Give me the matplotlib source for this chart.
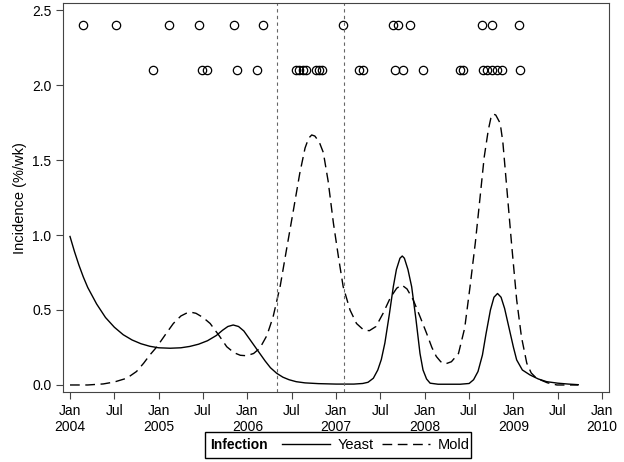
import matplotlib
matplotlib.use('Agg')
import matplotlib.pyplot as plt
from matplotlib.lines import Line2D
from matplotlib.patches import Rectangle

plt.rcParams['font.family'] = ['Liberation Sans', 'DejaVu Sans']

# time in decimal years
yeast_t = [2004.0, 2004.05, 2004.1, 2004.15, 2004.2, 2004.3, 2004.4, 2004.5, 2004.6,
           2004.7, 2004.8, 2004.9, 2005.0, 2005.13, 2005.25, 2005.35, 2005.45, 2005.55,
           2005.65, 2005.72, 2005.78, 2005.84, 2005.9, 2005.96, 2006.02, 2006.08,
           2006.14, 2006.2, 2006.26, 2006.33, 2006.4, 2006.47, 2006.55, 2006.65, 2006.8,
           2007.0, 2007.2, 2007.3, 2007.36, 2007.42, 2007.47, 2007.51, 2007.55, 2007.6,
           2007.645, 2007.68, 2007.72, 2007.746, 2007.77, 2007.81, 2007.852, 2007.9,
           2007.946, 2007.98, 2008.02, 2008.06, 2008.15, 2008.4, 2008.5, 2008.55, 2008.6,
           2008.65, 2008.69, 2008.74, 2008.78, 2008.82, 2008.86, 2008.9, 2008.95, 2009.0,
           2009.036, 2009.1, 2009.186, 2009.28, 2009.374, 2009.5, 2009.62, 2009.73]
yeast_v = [0.99, 0.89, 0.80, 0.72, 0.65, 0.54, 0.45, 0.385, 0.335,
           0.30, 0.275, 0.258, 0.248, 0.245, 0.248, 0.257, 0.272, 0.295,
           0.33, 0.365, 0.39, 0.40, 0.39, 0.36, 0.31, 0.26,
           0.21, 0.16, 0.115, 0.078, 0.052, 0.035, 0.022, 0.014, 0.009,
           0.006, 0.006, 0.010, 0.018, 0.045, 0.10, 0.17, 0.28, 0.47,
           0.655, 0.77, 0.845, 0.86, 0.845, 0.77, 0.655, 0.44,
           0.21, 0.10, 0.04, 0.012, 0.005, 0.005, 0.010, 0.035, 0.09,
           0.20, 0.34, 0.50, 0.585, 0.61, 0.585, 0.51, 0.38, 0.25,
           0.167, 0.10, 0.067, 0.04, 0.022, 0.012, 0.006, 0.002]

mold_t = [2004.0, 2004.2, 2004.375, 2004.5, 2004.64, 2004.75, 2004.83, 2004.9, 2004.98,
          2005.08, 2005.165, 2005.25, 2005.31, 2005.364, 2005.42, 2005.5, 2005.58,
          2005.68, 2005.767, 2005.85, 2005.92, 2005.99, 2006.07, 2006.14, 2006.22,
          2006.29, 2006.37, 2006.44, 2006.52, 2006.59, 2006.65, 2006.69, 2006.725,
          2006.76, 2006.81, 2006.856, 2006.91, 2006.97, 2007.03, 2007.08, 2007.157,
          2007.23, 2007.31, 2007.375, 2007.45, 2007.53, 2007.61, 2007.683, 2007.74,
          2007.8, 2007.87, 2007.95, 2008.02, 2008.08, 2008.13, 2008.18, 2008.23, 2008.3,
          2008.38, 2008.45, 2008.51, 2008.57, 2008.62, 2008.67, 2008.716, 2008.745,
          2008.77, 2008.80, 2008.85, 2008.88, 2008.92, 2008.98, 2009.036, 2009.09,
          2009.15, 2009.2, 2009.26, 2009.38, 2009.49, 2009.73]
mold_v = [0.0, 0.0, 0.007, 0.02, 0.045, 0.09, 0.145, 0.20, 0.255,
          0.34, 0.41, 0.46, 0.478, 0.485, 0.478, 0.45, 0.41,
          0.33, 0.255, 0.215, 0.198, 0.195, 0.21, 0.245, 0.33,
          0.455, 0.66, 0.90, 1.17, 1.41, 1.58, 1.645, 1.667,
          1.66, 1.62, 1.55, 1.36, 1.078, 0.84, 0.655, 0.50,
          0.41, 0.367, 0.362, 0.39, 0.478, 0.58, 0.645, 0.667,
          0.64, 0.567, 0.45, 0.345, 0.25, 0.19, 0.155, 0.14, 0.155,
          0.21, 0.38, 0.655, 0.95, 1.233, 1.52, 1.70, 1.78,
          1.807, 1.80, 1.745, 1.62, 1.345, 0.93, 0.567, 0.32,
          0.145, 0.08, 0.045, 0.015, 0.0, 0.0]

# event times (circle rows)
row_top_t = [2004.150, 2004.519, 2005.120, 2005.458, 2005.849, 2006.180, 2007.078,
             2007.638, 2007.701, 2007.833, 2008.648, 2008.754, 2009.065]
row_bottom_t = [2004.932, 2005.485, 2005.541, 2005.879, 2006.105, 2006.548, 2006.587,
                2006.627, 2006.666, 2006.773, 2006.807, 2006.841, 2007.262, 2007.300,
                2007.664, 2007.758, 2007.980, 2008.397, 2008.434, 2008.659, 2008.705,
                2008.754, 2008.811, 2008.866, 2009.073]
row_top_y = 2.4
row_bottom_y = 2.1

ref_lines = [2006.33, 2007.086]

xticks = [2004 + 0.5 * i for i in range(13)]
xtick_labels = []
for i in range(13):
    if i % 2 == 0:
        xtick_labels.append('Jan\n%d' % (2004 + i // 2))
    else:
        xtick_labels.append('Jul')

fig = plt.figure(figsize=(6.24, 4.62), dpi=100)
ax = fig.add_axes([0.1014, 0.1508, 0.875, 0.8421])

ax.plot(yeast_t, yeast_v, color='black', lw=1.0, solid_joinstyle='round')
ax.plot(mold_t, mold_v, color='black', lw=1.0, dashes=(7, 4),
        dash_joinstyle='round')

ax.plot(row_top_t, [row_top_y] * len(row_top_t), 'o', ms=6, mfc='none',
        mec='black', mew=0.9)
ax.plot(row_bottom_t, [row_bottom_y] * len(row_bottom_t), 'o', ms=6, mfc='none',
        mec='black', mew=0.9)

for x in ref_lines:
    ax.axvline(x, color='#666666', lw=0.8, dashes=(3, 3))

ax.set_xlim(2003.924, 2010.08)
ax.set_ylim(-0.049, 2.545)
ax.set_xticks(xticks)
ax.set_xticklabels(xtick_labels, fontsize=10)
ax.set_yticks([0.0, 0.5, 1.0, 1.5, 2.0, 2.5])
ax.set_yticklabels(['0.0', '0.5', '1.0', '1.5', '2.0', '2.5'], fontsize=10)
ax.tick_params(direction='out', length=5, color='#444444')
for s in ax.spines.values():
    s.set_color('#444444')
ax.set_ylabel('Incidence (%/wk)', fontsize=10.5)

# legend box: bold "Infection" on the left, then the two line keys
fig.patches.append(Rectangle((0.3285, 0.009), 0.4263, 0.0563, transform=fig.transFigure,
                             fill=False, edgecolor='black', lw=1.0))
fig.text(0.3365, 0.0375, 'Infection', fontsize=10, fontweight='bold',
         ha='left', va='center')
handles = [Line2D([], [], color='black', lw=1.0),
           Line2D([], [], color='black', lw=1.0, dashes=(7, 4))]
fig.legend(handles, ['Yeast', 'Mold'], ncol=2, loc='center left',
           bbox_to_anchor=(0.452, 0.0375), fontsize=10.5, frameon=False,
           handlelength=3.3, handletextpad=0.5, columnspacing=0.6,
           borderpad=0.0, borderaxespad=0.0)

fig.savefig('out.png', dpi=100)
